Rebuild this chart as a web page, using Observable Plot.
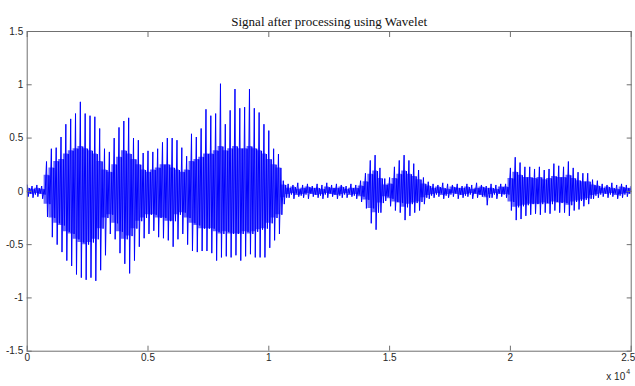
<!DOCTYPE html>
<html><head><meta charset="utf-8">
<script src="https://cdn.jsdelivr.net/npm/d3@7"></script>
<script src="https://cdn.jsdelivr.net/npm/@observablehq/plot@0.6"></script>
<style>
html,body{margin:0;padding:0;background:#fff;overflow:hidden;width:635px;height:386px}
</style></head>
<body><div id="chart"></div>
<script>
const chartTitle = "Signal after processing using Wavelet";
const xTicks = [0, 5000, 10000, 15000, 20000, 25000];
const xTickLabels = ["0", "0.5", "1", "1.5", "2", "2.5"];
const yTicks = [-1.5, -1, -0.5, 0, 0.5, 1, 1.5];
const yTickLabels = ["-1.5", "-1", "-0.5", "0", "0.5", "1", "1.5"];

// sample index (start of each 200-sample window)
const sampleIdx = [
  0,200,400,600,800,1000,1200,1400,1600,1800,
  2000,2200,2400,2600,2800,3000,3200,3400,3600,3800,
  4000,4200,4400,4600,4800,5000,5200,5400,5600,5800,
  6000,6200,6400,6600,6800,7000,7200,7400,7600,7800,
  8000,8200,8400,8600,8800,9000,9200,9400,9600,9800,
  10000,10200,10400,10600,10800,11000,11200,11400,11600,11800,
  12000,12200,12400,12600,12800,13000,13200,13400,13600,13800,
  14000,14200,14400,14600,14800,15000,15200,15400,15600,15800,
  16000,16200,16400,16600,16800,17000,17200,17400,17600,17800,
  18000,18200,18400,18600,18800,19000,19200,19400,19600,19800,
  20000,20200,20400,20600,20800,21000,21200,21400,21600,21800,
  22000,22200,22400,22600,22800,23000,23200,23400,23600,23800,
  24000,24200,24400,24600,24800,25000
];
// outer peaks (max / min) in each window
const peakHigh = [
  0.06,0.05,0.06,0.05,0.28,0.40,0.41,0.51,0.63,0.68,
  0.73,0.84,0.73,0.71,0.70,0.59,0.40,0.37,0.50,0.60,
  0.66,0.69,0.50,0.48,0.36,0.38,0.37,0.40,0.46,0.50,
  0.50,0.48,0.41,0.33,0.54,0.51,0.59,0.77,0.71,0.73,
  1.01,0.63,0.76,0.96,0.78,0.79,0.96,0.78,0.74,0.63,
  0.57,0.40,0.35,0.10,0.07,0.06,0.08,0.06,0.07,0.05,
  0.07,0.06,0.08,0.06,0.07,0.06,0.05,0.07,0.06,0.10,
  0.17,0.29,0.34,0.22,0.12,0.13,0.23,0.29,0.34,0.29,
  0.26,0.20,0.13,0.09,0.07,0.06,0.08,0.07,0.06,0.07,
  0.05,0.07,0.06,0.08,0.06,0.05,0.07,0.06,0.07,0.07,
  0.22,0.32,0.27,0.23,0.23,0.21,0.23,0.20,0.21,0.26,
  0.24,0.23,0.28,0.22,0.18,0.17,0.17,0.11,0.10,0.07,
  0.06,0.08,0.06,0.07,0.06,0.05
];
const peakLow = [
  -0.05,-0.06,-0.05,-0.07,-0.24,-0.43,-0.50,-0.57,-0.65,-0.70,
  -0.78,-0.81,-0.83,-0.81,-0.84,-0.74,-0.60,-0.40,-0.45,-0.58,
  -0.68,-0.77,-0.65,-0.52,-0.44,-0.40,-0.37,-0.43,-0.44,-0.46,
  -0.52,-0.45,-0.40,-0.50,-0.56,-0.57,-0.56,-0.56,-0.58,-0.65,
  -0.62,-0.61,-0.62,-0.60,-0.65,-0.61,-0.59,-0.62,-0.62,-0.62,
  -0.53,-0.46,-0.40,-0.12,-0.06,-0.07,-0.05,-0.06,-0.07,-0.05,
  -0.06,-0.07,-0.06,-0.05,-0.07,-0.06,-0.06,-0.05,-0.07,-0.10,
  -0.16,-0.30,-0.36,-0.20,-0.09,-0.14,-0.18,-0.20,-0.27,-0.23,
  -0.20,-0.18,-0.12,-0.07,-0.06,-0.05,-0.07,-0.06,-0.05,-0.07,
  -0.06,-0.05,-0.07,-0.06,-0.05,-0.13,-0.06,-0.07,-0.05,-0.06,
  -0.18,-0.27,-0.26,-0.23,-0.22,-0.21,-0.22,-0.20,-0.21,-0.18,
  -0.20,-0.20,-0.23,-0.18,-0.17,-0.14,-0.12,-0.07,-0.06,-0.05,
  -0.06,-0.05,-0.07,-0.06,-0.05,-0.06
];
// inner (typical) oscillation in each window
const coreHigh = [
  0.03,0.02,0.03,0.02,0.15,0.22,0.28,0.30,0.35,0.38,
  0.40,0.42,0.40,0.38,0.35,0.28,0.20,0.18,0.25,0.32,
  0.38,0.35,0.30,0.25,0.20,0.18,0.20,0.22,0.25,0.25,
  0.22,0.20,0.18,0.20,0.28,0.30,0.32,0.35,0.35,0.38,
  0.42,0.38,0.40,0.42,0.40,0.40,0.42,0.40,0.38,0.35,
  0.30,0.25,0.22,0.06,0.03,0.04,0.02,0.03,0.04,0.03,
  0.03,0.02,0.04,0.03,0.03,0.04,0.02,0.03,0.03,0.05,
  0.09,0.16,0.19,0.12,0.06,0.07,0.12,0.16,0.19,0.16,
  0.14,0.11,0.07,0.05,0.03,0.04,0.03,0.02,0.04,0.03,
  0.03,0.04,0.02,0.03,0.04,0.03,0.03,0.02,0.04,0.04,
  0.12,0.18,0.15,0.13,0.13,0.12,0.13,0.11,0.12,0.14,
  0.13,0.13,0.15,0.12,0.10,0.09,0.09,0.06,0.05,0.03,
  0.04,0.03,0.02,0.04,0.03,0.03
];
const coreLow = [
  -0.02,-0.03,-0.02,-0.03,-0.12,-0.25,-0.30,-0.32,-0.38,-0.40,
  -0.45,-0.48,-0.50,-0.48,-0.45,-0.35,-0.25,-0.22,-0.30,-0.38,
  -0.45,-0.42,-0.35,-0.28,-0.25,-0.22,-0.22,-0.25,-0.25,-0.28,
  -0.28,-0.22,-0.20,-0.25,-0.30,-0.32,-0.35,-0.35,-0.35,-0.38,
  -0.40,-0.38,-0.40,-0.40,-0.40,-0.38,-0.40,-0.38,-0.36,-0.35,
  -0.30,-0.25,-0.22,-0.06,-0.03,-0.02,-0.04,-0.03,-0.02,-0.03,
  -0.04,-0.03,-0.02,-0.03,-0.04,-0.03,-0.02,-0.04,-0.03,-0.05,
  -0.08,-0.16,-0.20,-0.11,-0.05,-0.07,-0.10,-0.11,-0.15,-0.12,
  -0.11,-0.10,-0.06,-0.04,-0.03,-0.02,-0.04,-0.03,-0.02,-0.03,
  -0.04,-0.03,-0.02,-0.03,-0.04,-0.06,-0.03,-0.02,-0.03,-0.03,
  -0.10,-0.15,-0.14,-0.13,-0.12,-0.12,-0.12,-0.11,-0.12,-0.10,
  -0.11,-0.11,-0.13,-0.10,-0.09,-0.08,-0.07,-0.04,-0.03,-0.02,
  -0.03,-0.02,-0.04,-0.03,-0.02,-0.03
];

// waveform: two oscillations per window (outer peak pair, then inner pair)
const wave = [];
sampleIdx.forEach((s, i) => {
  wave.push({x: s, y: peakHigh[i]});
  wave.push({x: s + 40, y: peakLow[i]});
  wave.push({x: s + 100, y: coreHigh[i]});
  wave.push({x: s + 140, y: coreLow[i]});
});
// dense core band of the waveform
const band = sampleIdx.map((s, i) => ({x: s, lo: coreLow[i], hi: coreHigh[i]}));
const xLabelRows = xTicks.map((t, i) => ({x: t, label: xTickLabels[i]}));

const sans = "'Liberation Sans', Arial, sans-serif";
const serif = "'Liberation Serif', 'Times New Roman', serif";

const plot = Plot.plot({
  width: 635,
  height: 386,
  marginLeft: 26.7,
  marginRight: 4.3,
  marginTop: 31,
  marginBottom: 35.3,
  style: {fontFamily: sans, fontSize: "10px", color: "#262626", background: "#fff", overflow: "hidden"},
  x: {domain: [0, 25000]},
  y: {domain: [-1.5, 1.5]},
  marks: [
    Plot.areaY(band, {x: "x", y1: "lo", y2: "hi", fill: "#0000ff", fillOpacity: 0.6, curve: "step", clip: true}),
    Plot.line(wave, {x: "x", y: "y", stroke: "#0000ff", strokeWidth: 1, clip: true}),
    Plot.frame({stroke: "#707070"}),
    Plot.axisX(xTicks, {anchor: "bottom", tickSize: -5, stroke: "#707070", tickFormat: () => "", label: null}),
    Plot.text(xLabelRows.slice(0, 5), {x: "x", text: "label", frameAnchor: "bottom", dy: 10, fill: "#262626", fontSize: 10}),
    Plot.text(xLabelRows.slice(5), {x: "x", text: "label", frameAnchor: "bottom", dy: 10, dx: 4, textAnchor: "end", fill: "#262626", fontSize: 10}),
    Plot.axisX(xTicks, {anchor: "top", tickSize: -5, stroke: "#707070", tickFormat: () => "", label: null}),
    Plot.axisY(yTicks, {anchor: "left", tickSize: -5, tickPadding: 9, stroke: "#707070", fill: "#262626",
      tickFormat: (d) => yTickLabels[yTicks.indexOf(d)], label: null}),
    Plot.axisY(yTicks, {anchor: "right", tickSize: -5, stroke: "#707070", tickFormat: () => "", label: null}),
    Plot.text([chartTitle], {frameAnchor: "top", dy: -15, fontFamily: serif, fontSize: 13, fill: "#111"}),
    Plot.text(["x 10"], {frameAnchor: "bottom-right", dx: -6, dy: 29, textAnchor: "end", fontSize: 10, fill: "#262626"}),
    Plot.text(["4"], {frameAnchor: "bottom-right", dx: -5, dy: 23, textAnchor: "start", fontSize: 7, fill: "#262626"})
  ]
});
document.getElementById("chart").appendChild(plot);
</script>
</body></html>
